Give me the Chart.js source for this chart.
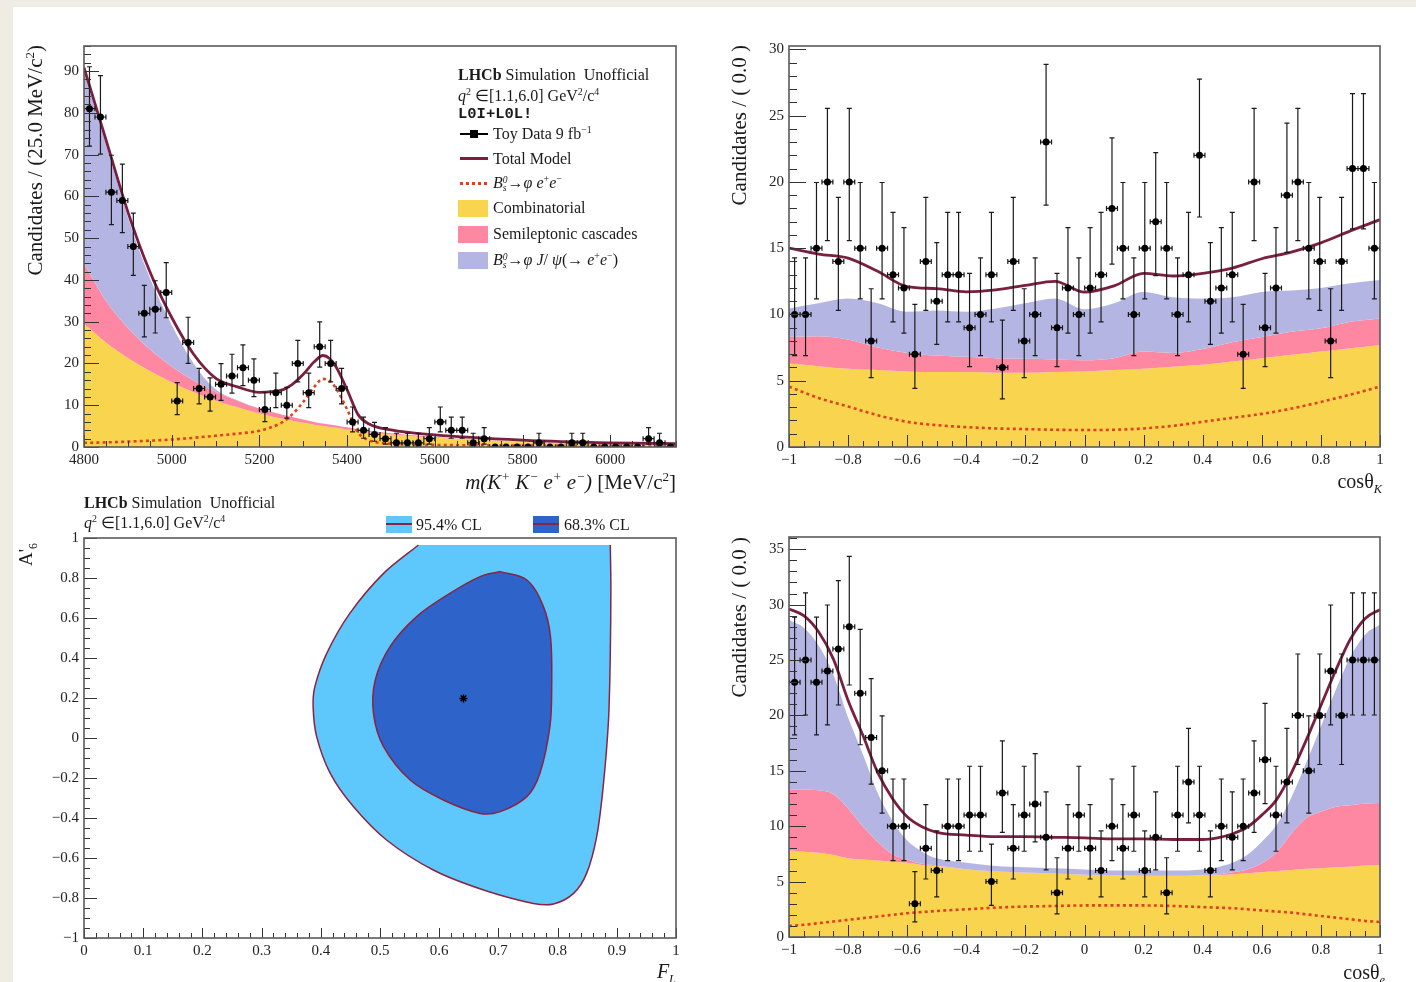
<!DOCTYPE html>
<html lang="en"><head><meta charset="utf-8"><title>LHCb toy fit</title>
<script src="https://cdn.jsdelivr.net/npm/chart.js@4.4.1/dist/chart.umd.min.js"></script>
<style>
html,body{margin:0;padding:0}
body{width:1416px;height:982px;background:#efece4;position:relative;overflow:hidden;font-family:"Liberation Serif","Times New Roman",serif;color:#1a1a1a}
#sheet{position:absolute;left:13px;top:7px;right:0;bottom:0;background:#fff}
canvas{position:absolute}
.t{position:absolute;white-space:nowrap;line-height:1}
.rot{position:absolute;width:400px;white-space:nowrap;text-align:right;line-height:1;transform:rotate(-90deg);transform-origin:100% 0}
sup,sub{font-size:62%;line-height:0}
.mono{font-family:"Liberation Mono","DejaVu Sans Mono",monospace;font-weight:bold}
.sw{position:absolute}
.ss{display:inline-block;font-size:60%;line-height:0.85;vertical-align:-0.3em;text-align:left}
</style></head>
<body>
<div id="sheet"></div>
<canvas id="c1" width="708" height="490" style="left:0;top:0"></canvas>
<canvas id="c2" width="708" height="490" style="left:708px;top:0"></canvas>
<canvas id="c3" width="708" height="492" style="left:0;top:490px"></canvas>
<canvas id="c4" width="708" height="492" style="left:708px;top:490px"></canvas>

<!-- Panel 1 texts -->
<div class="rot" style="left:-375px;top:45px;font-size:21px">Candidates / (25.0 MeV/c<sup>2</sup>)</div>
<div class="t" style="right:740px;top:472px;font-size:21px"><i>m(K<sup>+</sup> K<sup>−</sup> e<sup>+</sup> e<sup>−</sup>)</i> [MeV/c<sup>2</sup>]</div>
<div class="t" style="left:458px;top:67px;font-size:16px"><b>LHCb</b> Simulation&nbsp; Unofficial</div>
<div class="t" style="left:458px;top:88px;font-size:16px"><i>q</i><sup>2</sup> ∈[1.1,6.0] GeV<sup>2</sup>/c<sup>4</sup></div>
<div class="t mono" style="left:458px;top:107px;font-size:15.5px">L0I+L0L!</div>
<div class="sw" style="left:460px;top:133px;width:28px;height:2px;background:#000"></div>
<div class="sw" style="left:470px;top:130px;width:8px;height:8px;background:#000"></div>
<div class="t" style="left:493px;top:126px;font-size:16px">Toy Data 9 fb<sup>−1</sup></div>
<div class="sw" style="left:460px;top:157px;width:28px;height:3px;background:#7a1f3f"></div>
<div class="t" style="left:493px;top:151px;font-size:16px">Total Model</div>
<div class="sw" style="left:460px;top:182px;width:28px;height:3px;background:repeating-linear-gradient(90deg,#e2401d 0 3px,transparent 3px 6px)"></div>
<div class="t" style="left:493px;top:175px;font-size:16px"><i>B</i><span class="ss"><i>0</i><br><i>s</i></span>→<i>φ e</i><sup>+</sup><i>e</i><sup>−</sup></div>
<div class="sw" style="left:458px;top:200px;width:30px;height:17px;background:#f9d44f"></div>
<div class="t" style="left:493px;top:200px;font-size:16px">Combinatorial</div>
<div class="sw" style="left:458px;top:226px;width:30px;height:17px;background:#fe88a2"></div>
<div class="t" style="left:493px;top:226px;font-size:16px">Semileptonic cascades</div>
<div class="sw" style="left:458px;top:252px;width:30px;height:17px;background:#b5b5e3"></div>
<div class="t" style="left:493px;top:252px;font-size:16px"><i>B</i><span class="ss"><i>0</i><br><i>s</i></span>→<i>φ J</i>/ <i>ψ</i>(→ <i>e</i><sup>+</sup><i>e</i><sup>−</sup>)</div>

<!-- Panel 2 texts -->
<div class="rot" style="left:329px;top:45px;font-size:21px">Candidates / ( 0.0 )</div>
<div class="t" style="right:34px;top:471px;font-size:20px">cosθ<sub><i>K</i></sub></div>

<!-- Panel 3 texts -->
<div class="t" style="left:84px;top:495px;font-size:16px"><b>LHCb</b> Simulation&nbsp; Unofficial</div>
<div class="t" style="left:84px;top:515px;font-size:16px"><i>q</i><sup>2</sup> ∈[1.1,6.0] GeV<sup>2</sup>/c<sup>4</sup></div>
<div class="sw" style="left:386px;top:516px;width:26px;height:17px;background:#5ec8fd"></div>
<div class="sw" style="left:386px;top:523px;width:26px;height:2px;background:#8a2442"></div>
<div class="t" style="left:416px;top:517px;font-size:16px">95.4% CL</div>
<div class="sw" style="left:533px;top:516px;width:26px;height:17px;background:#2e63c9"></div>
<div class="sw" style="left:533px;top:523px;width:26px;height:2px;background:#8a2442"></div>
<div class="t" style="left:564px;top:517px;font-size:16px">68.3% CL</div>
<div class="rot" style="left:-384px;top:543px;font-size:19px">A'<sub>6</sub></div>
<div class="t" style="right:740px;top:961px;font-size:20px"><i>F<sub>L</sub></i></div>

<!-- Panel 4 texts -->
<div class="rot" style="left:329px;top:537px;font-size:21px">Candidates / ( 0.0 )</div>
<div class="t" style="right:31px;top:962px;font-size:20px">cosθ<sub><i>e</i></sub></div>

<script>
// ---------------- Panel 1: mass distribution ----------------
const massBins = [4812.5,4837.5,4862.5,4887.5,4912.5,4937.5,4962.5,4987.5,5012.5,5037.5,
  5062.5,5087.5,5112.5,5137.5,5162.5,5187.5,5212.5,5237.5,5262.5,5287.5,
  5312.5,5337.5,5362.5,5387.5,5412.5,5437.5,5462.5,5487.5,5512.5,5537.5,
  5562.5,5587.5,5612.5,5637.5,5662.5,5687.5,5712.5,5737.5,5762.5,5787.5,
  5812.5,5837.5,5862.5,5887.5,5912.5,5937.5,5962.5,5987.5,6012.5,6037.5,
  6062.5,6087.5,6112.5,6137.5];
const massCounts = [81,79,61,59,48,32,33,37,11,25,
  14,12,15,17,19,16,9,13,10,20,
  13,24,20,14,6,4,3,2,1,1,
  1,2,6,4,4,1,2,0,0,0,
  0,1,0,0,1,1,0,0,0,0,
  0,2,1,0];
const massGrid = [4800,4850,4900,4950,5000,5050,5100,5150,5200,5250,5275,5300,5325,5345,5360,5375,5400,5425,5450,5500,5600,5800,6000,6150];
const massComb = [29.5,25.0,21.3,18.2,15.5,13.1,11.1,9.5,8.0,6.8,6.3,5.8,5.3,5.0,4.8,4.6,4.2,3.8,3.5,3.0,2.2,1.2,0.6,0.4];
const massSemi = [14.5,10.0,7.2,5.2,3.8,2.8,2.1,1.6,1.2,1.0,0.9,0.8,0.7,0.6,0.6,0.55,0.5,0.45,0.4,0.3,0.2,0.1,0.1,0.1];
const massJpsi = [45.8,37.5,26.5,17.1,9.9,4.1,0.6,0.1,0,0,0,0,0,0,0,0,0,0,0,0,0,0,0,0];
const massSig  = [1.0,1.1,1.3,1.5,1.8,2.2,2.7,3.2,3.9,5.8,7.8,10.8,14.4,16.3,15.8,14.0,9.0,3.5,1.6,0.8,0.5,0.35,0.3,0.3];
const massTicks = [4800,5000,5200,5400,5600,5800,6000];
const massCountTicks = [0,10,20,30,40,50,60,70,80,90];

// ---------------- Panel 2: cos theta_K ----------------
const cosBins = [-0.981,-0.944,-0.907,-0.870,-0.833,-0.796,-0.759,-0.722,-0.685,-0.648,
  -0.611,-0.574,-0.537,-0.500,-0.463,-0.426,-0.389,-0.352,-0.315,-0.278,
  -0.241,-0.204,-0.167,-0.130,-0.093,-0.056,-0.019,0.019,0.056,0.093,
  0.130,0.167,0.204,0.241,0.278,0.315,0.352,0.389,0.426,0.463,
  0.500,0.537,0.574,0.611,0.648,0.685,0.722,0.759,0.796,0.833,
  0.870,0.907,0.944,0.981];
const cosKCounts = [10,10,15,20,14,20,15,8,15,13,
  12,7,14,11,13,13,9,10,13,6,
  14,8,10,23,9,12,10,12,13,18,
  15,10,15,17,15,10,13,22,11,12,
  13,7,20,9,12,19,20,15,14,8,
  14,21,21,15];
const cosKGrid = [-1,-0.9,-0.8,-0.7,-0.6,-0.5,-0.4,-0.3,-0.2,-0.1,0,0.1,0.2,0.3,0.4,0.5,0.6,0.7,0.8,0.9,1];
const cosKComb = [6.3,6.1,5.9,5.8,5.7,5.65,5.65,5.6,5.6,5.65,5.7,5.8,5.9,6.05,6.2,6.45,6.7,6.95,7.2,7.45,7.7];
const cosKSemi = [2.0,2.25,2.2,1.7,1.4,1.25,1.15,1.1,1.05,0.95,0.85,0.9,1.3,1.05,1.2,1.45,1.6,1.75,1.75,2.0,2.0];
const cosKJpsi = [2.15,2.5,3.1,3.35,3.1,3.4,3.4,3.75,4.2,4.6,3.85,4.15,4.5,4.2,3.8,3.4,3.4,3.1,3.05,2.9,2.9];
const cosKSig  = [4.55,3.7,3.05,2.4,1.9,1.65,1.5,1.4,1.35,1.3,1.28,1.3,1.4,1.6,1.9,2.2,2.5,2.9,3.4,3.95,4.55];
const cosTicks = [-1,-0.8,-0.6,-0.4,-0.2,0,0.2,0.4,0.6,0.8,1];
const cosKCountTicks = [0,5,10,15,20,25,30];

// ---------------- Panel 3: F_L vs A'6 contours ----------------
// outer contour starts at the top-left corner; the top-right corner is listed twice to keep it sharp
const outerFL = [0.565,0.506,0.449,0.410,0.390,0.387,0.393,0.416,0.455,0.511,0.590,0.675,0.759,0.793,0.827,0.849,0.866,0.877,0.886,0.889,0.890,0.889,0.889,0.730];
const outerA6 = [0.965,0.823,0.623,0.423,0.257,0.157,0.007,-0.177,-0.343,-0.510,-0.660,-0.760,-0.827,-0.830,-0.777,-0.677,-0.493,-0.243,0.090,0.423,0.757,0.965,0.965,0.965];
const innerFL = [0.703,0.748,0.776,0.788,0.790,0.787,0.770,0.748,0.703,0.669,0.607,0.551,0.506,0.489,0.492,0.517,0.562,0.618,0.669];
const innerA6 = [0.832,0.790,0.657,0.507,0.257,0.057,-0.177,-0.293,-0.368,-0.377,-0.310,-0.210,-0.043,0.123,0.290,0.457,0.607,0.723,0.807];
const bestFL = [0.641];
const bestA6 = [0.198];
const flTicks = [0,0.1,0.2,0.3,0.4,0.5,0.6,0.7,0.8,0.9,1];
const a6Ticks = [-1,-0.8,-0.6,-0.4,-0.2,0,0.2,0.4,0.6,0.8,1];

// ---------------- Panel 4: cos theta_e ----------------
const cosECounts = [23,25,23,24,26,28,22,18,15,10,
  10,3,8,6,10,10,11,11,5,13,
  8,11,12,9,4,8,11,8,6,10,
  8,11,6,9,4,11,14,11,6,10,
  9,10,13,16,11,14,20,15,20,24,
  20,25,25,25];
const cosEGrid = [-1,-0.95,-0.9,-0.85,-0.8,-0.75,-0.7,-0.65,-0.6,-0.55,-0.5,-0.4,-0.3,-0.2,-0.1,0,0.1,0.2,0.3,0.4,0.45,0.5,0.55,0.6,0.65,0.7,0.75,0.8,0.85,0.9,0.95,1];
const cosEComb = [7.8,7.7,7.6,7.4,7.1,7.0,6.9,6.8,6.7,6.5,6.4,6.1,5.9,5.8,5.7,5.6,5.55,5.5,5.5,5.55,5.6,5.65,5.75,5.85,5.95,6.05,6.15,6.2,6.3,6.35,6.45,6.5];
const cosESemi = [5.5,5.6,5.65,5.5,4.5,3.0,1.7,0.7,0.3,0.1,0.05,0.02,0.02,0.02,0.02,0.02,0.02,0.02,0.02,0.02,0.05,0.2,0.35,0.8,1.7,3.3,4.6,5.1,5.45,5.55,5.6,5.6];
const cosEJpsi = [15.3,14.6,13.05,10.8,8.2,6.5,4.4,3.0,1.7,1.1,0.65,0.58,0.48,0.48,0.48,0.48,0.43,0.48,0.48,0.53,0.65,0.85,1.3,1.95,2.45,3.25,4.95,7.7,10.55,13.4,15.25,16.1];
const cosESig  = [1.0,1.1,1.25,1.4,1.55,1.7,1.85,2.0,2.15,2.25,2.35,2.5,2.65,2.75,2.8,2.85,2.85,2.85,2.8,2.7,2.65,2.6,2.5,2.4,2.3,2.2,2.05,1.9,1.75,1.6,1.45,1.35];
const cosECountTicks = [0,5,10,15,20,25,30,35];

// ---------------- helpers ----------------
const COL = {yellow:'#f9d44f', pink:'#fe88a2', lav:'#b5b5e3', total:'#7a1f3f', sig:'#e2401d',
             light:'#5ec8fd', dark:'#2e63c9', contour:'#8a2442'};
Chart.defaults.font.family = '"Liberation Serif","Times New Roman",serif';
Chart.defaults.font.size = 15;
Chart.defaults.color = '#222';

const pts = (xs, ys) => xs.map((x, i) => ({x: x, y: ys[i]}));
const fmtNum = v => String(Math.round(v * 100) / 100).replace('-', '\u2212');

function modelSets(grid, comb, semi, jpsi, sig, bins, counts) {
  const t1 = comb.slice();
  const t2 = t1.map((v, i) => v + semi[i]);
  const t3 = t2.map((v, i) => v + jpsi[i]);
  const tot = t3.map((v, i) => v + sig[i]);
  const area = {pointRadius: 0, borderWidth: 0, borderColor: 'rgba(0,0,0,0)', cubicInterpolationMode: 'monotone'};
  return [
    Object.assign({}, area, {data: pts(grid, t1), backgroundColor: COL.yellow, fill: 'origin', order: 5}),
    Object.assign({}, area, {data: pts(grid, t2), backgroundColor: COL.pink, fill: 0, order: 4}),
    Object.assign({}, area, {data: pts(grid, t3), backgroundColor: COL.lav, fill: 1, order: 3}),
    {data: pts(grid, sig), pointRadius: 0, borderColor: COL.sig, borderWidth: 2.6, borderDash: [3, 3.2],
     cubicInterpolationMode: 'monotone', fill: false, order: 2},
    {data: pts(grid, tot), pointRadius: 0, borderColor: COL.total, borderWidth: 2.8,
     cubicInterpolationMode: 'monotone', fill: false, order: 1},
    {data: pts(bins, counts), showLine: false, pointRadius: 3.5, pointBackgroundColor: '#000',
     pointBorderWidth: 0, fill: false, order: 0}
  ];
}

function garwood(n) {
  const m = n + 1;
  const hi = m * Math.pow(1 - 1 / (9 * m) + 1 / (3 * Math.sqrt(m)), 3) - n;
  const lo = n > 0 ? n - n * Math.pow(1 - 1 / (9 * n) - 1 / (3 * Math.sqrt(n)), 3) : 0;
  return [lo, hi];
}

const panelCfg = {};

const errBars = {
  id: 'errBars',
  beforeDatasetDraw(chart, args) {
    const cfg = panelCfg[chart.canvas.id];
    if (!cfg || !cfg.err || cfg.err.index !== args.index) return;
    const {ctx, chartArea: a} = chart;
    const xs = chart.scales.x, ys = chart.scales.y;
    const ds = chart.data.datasets[args.index];
    ctx.save();
    ctx.beginPath(); ctx.rect(a.left, a.top, a.right - a.left, a.bottom - a.top); ctx.clip();
    ctx.strokeStyle = '#1a1a1a'; ctx.lineWidth = 1.2;
    ctx.beginPath();
    ds.data.forEach(p => {
      const px = xs.getPixelForValue(p.x), py = ys.getPixelForValue(p.y);
      const xl = xs.getPixelForValue(p.x - cfg.err.half), xr = xs.getPixelForValue(p.x + cfg.err.half);
      ctx.moveTo(xl, py); ctx.lineTo(xr, py);
      ctx.moveTo(xl, py - 2.5); ctx.lineTo(xl, py + 2.5);
      ctx.moveTo(xr, py - 2.5); ctx.lineTo(xr, py + 2.5);
      if (p.y > 0) {
        const e = garwood(p.y);
        const yt = ys.getPixelForValue(p.y + e[1]), yb = ys.getPixelForValue(p.y - e[0]);
        ctx.moveTo(px, yt); ctx.lineTo(px, yb);
        ctx.moveTo(px - 2.5, yt); ctx.lineTo(px + 2.5, yt);
        ctx.moveTo(px - 2.5, yb); ctx.lineTo(px + 2.5, yb);
      }
    });
    ctx.stroke();
    ctx.restore();
  }
};

const rootFrame = {
  id: 'rootFrame',
  afterDraw(chart) {
    const cfg = panelCfg[chart.canvas.id];
    if (!cfg) return;
    const {ctx, chartArea: a} = chart;
    const xs = chart.scales.x, ys = chart.scales.y;
    const minors = c => { const out = []; const n = Math.round((c.max - c.min) / c.minor); for (let i = 0; i <= n; i++) out.push(c.min + i * c.minor); return out; };
    ctx.save();
    ctx.strokeStyle = '#333'; ctx.lineWidth = 1;
    ctx.beginPath();
    minors(cfg.x).forEach(v => { const p = Math.round(xs.getPixelForValue(v)) + 0.5; ctx.moveTo(p, a.bottom); ctx.lineTo(p, a.bottom - cfg.x.len[1]); });
    cfg.x.major.forEach(v => { const p = Math.round(xs.getPixelForValue(v)) + 0.5; ctx.moveTo(p, a.bottom); ctx.lineTo(p, a.bottom - cfg.x.len[0]); });
    minors(cfg.y).forEach(v => { const p = Math.round(ys.getPixelForValue(v)) + 0.5; ctx.moveTo(a.left, p); ctx.lineTo(a.left + cfg.y.len[1], p); });
    cfg.y.major.forEach(v => { const p = Math.round(ys.getPixelForValue(v)) + 0.5; ctx.moveTo(a.left, p); ctx.lineTo(a.left + cfg.y.len[0], p); });
    ctx.stroke();
    ctx.strokeStyle = '#5a5a5a'; ctx.lineWidth = 1.6;
    ctx.strokeRect(a.left, a.top, a.right - a.left, a.bottom - a.top);
    ctx.restore();
  }
};

function makePanel(id, area, xc, yc, datasets, err) {
  const cv = document.getElementById(id);
  const W = cv.width, H = cv.height;
  panelCfg[id] = {x: xc, y: yc, err: err || null};
  return new Chart(cv, {
    type: 'line',
    data: {datasets: datasets},
    options: {
      responsive: false, animation: false, devicePixelRatio: 1,
      layout: {padding: {top: area.t, right: W - area.r, left: 0, bottom: 0}},
      plugins: {legend: {display: false}, tooltip: {enabled: false}},
      elements: {line: {tension: 0}},
      scales: {
        x: {type: 'linear', min: xc.min, max: xc.max,
            grid: {display: false, drawTicks: false}, border: {display: false},
            afterBuildTicks: s => { s.ticks = xc.major.map(v => ({value: v})); },
            afterFit: s => { s.height = H - area.b; },
            ticks: {autoSkip: false, maxRotation: 0, minRotation: 0, padding: 4, callback: v => fmtNum(v), color: '#222'}},
        y: {type: 'linear', min: yc.min, max: yc.max,
            grid: {display: false, drawTicks: false}, border: {display: false},
            afterBuildTicks: s => { s.ticks = yc.major.map(v => ({value: v})); },
            afterFit: s => { s.width = area.l; },
            ticks: {autoSkip: false, padding: 5, callback: v => fmtNum(v), color: '#222'}}
      }
    },
    plugins: [errBars, rootFrame]
  });
}

// Panel 1
makePanel('c1', {l: 84, t: 46, r: 676, b: 447},
  {min: 4800, max: 6150, major: massTicks, minor: 50, len: [12, 6]},
  {min: 0, max: 96, major: massCountTicks, minor: 2, len: [15, 7]},
  modelSets(massGrid, massComb, massSemi, massJpsi, massSig, massBins, massCounts),
  {index: 5, half: 12.5});

// Panel 2
makePanel('c2', {l: 81, t: 46, r: 672, b: 447},
  {min: -1, max: 1, major: cosTicks, minor: 0.05, len: [12, 6]},
  {min: 0, max: 30.25, major: cosKCountTicks, minor: 1, len: [17, 8]},
  modelSets(cosKGrid, cosKComb, cosKSemi, cosKJpsi, cosKSig, cosBins, cosKCounts),
  {index: 5, half: 1 / 54});

// Panel 3
const outerPts = pts(outerFL, outerA6); outerPts.push(outerPts[0]);
const innerPts = pts(innerFL, innerA6); innerPts.push(innerPts[0]);
const noTopEdge = c => (c.p0.parsed.y > 0.96 && c.p1.parsed.y > 0.96) ? 'rgba(0,0,0,0)' : undefined;
makePanel('c3', {l: 84, t: 48, r: 676, b: 448},
  {min: 0, max: 1, major: flTicks, minor: 0.02, len: [10, 5]},
  {min: -1, max: 1, major: a6Ticks, minor: 0.05, len: [13, 6]},
  [
    {data: outerPts, fill: 'shape', backgroundColor: COL.light, borderColor: COL.contour, borderWidth: 1.5,
     pointRadius: 0, tension: 0.3, order: 2, segment: {borderColor: noTopEdge}},
    {data: innerPts, fill: 'shape', backgroundColor: COL.dark, borderColor: COL.contour, borderWidth: 1.5,
     pointRadius: 0, tension: 0.35, order: 1},
    {data: pts(bestFL, bestA6), showLine: false, pointStyle: 'star', pointRadius: 4,
     pointBorderColor: '#000', pointBorderWidth: 1.5, order: 0}
  ], null);

// Panel 4
makePanel('c4', {l: 81, t: 47, r: 672, b: 447},
  {min: -1, max: 1, major: cosTicks, minor: 0.05, len: [12, 6]},
  {min: 0, max: 36.1, major: cosECountTicks, minor: 1, len: [17, 8]},
  modelSets(cosEGrid, cosEComb, cosESemi, cosEJpsi, cosESig, cosBins, cosECounts),
  {index: 5, half: 1 / 54});
</script>
</body></html>
